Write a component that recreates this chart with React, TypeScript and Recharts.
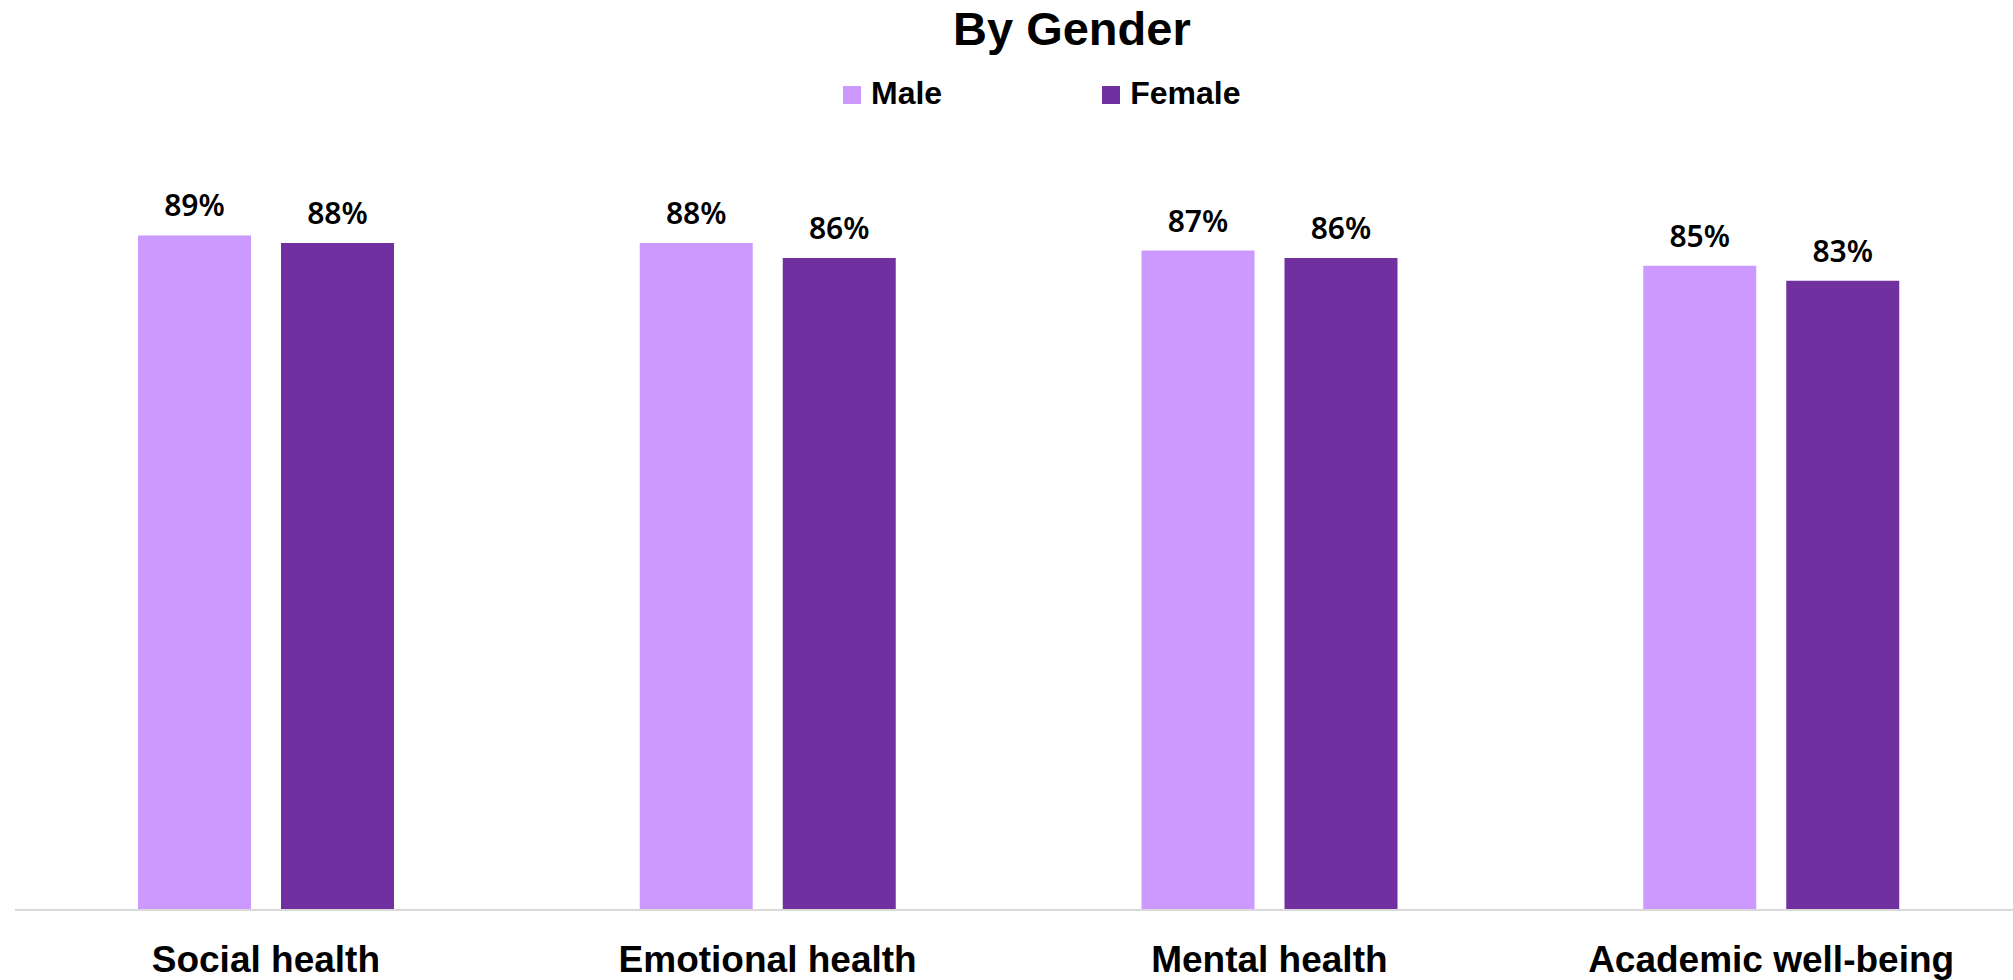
import React from "react";
import { BarChart, Bar, XAxis, YAxis, LabelList } from "recharts";

const categories = ["Social health", "Emotional health", "Mental health", "Academic well-being"];
const maleValues = [89, 88, 87, 85];
const femaleValues = [88, 86, 86, 83];
const seriesNames = ["Male", "Female"];
const seriesColors = ["#CC99FF", "#7030A0"];

const data = categories.map((c, i) => ({ category: c, Male: maleValues[i], Female: femaleValues[i] }));

const CategoryTick = (props: any) => {
  const { x, y, payload } = props;
  return (
    <text
      x={x}
      y={y}
      dy={54}
      textAnchor="middle"
      fontFamily="'Liberation Sans', Arial, sans-serif"
      fontWeight={700}
      fontSize={37}
      fill="#000"
    >
      {payload.value}
    </text>
  );
};

const fmt = (v: any) => `${v}%`;

export default function App() {
  return (
    <div style={{ position: "absolute", left: 0, top: 0, width: 2013, height: 980, overflow: "hidden", background: "#fff" }}>
      <div
        style={{
          position: "absolute",
          left: 953,
          top: 5,
          fontFamily: "'Liberation Sans', Arial, sans-serif",
          fontWeight: 700,
          fontSize: 47,
          lineHeight: 1,
          color: "#000",
          whiteSpace: "nowrap",
        }}
      >
        By Gender
      </div>
      <div
        style={{
          position: "absolute",
          left: 843,
          top: 77,
          display: "flex",
          gap: 160,
          fontFamily: "'Liberation Sans', Arial, sans-serif",
          fontWeight: 700,
          fontSize: 32,
          lineHeight: 1,
          color: "#000",
        }}
      >
        {seriesNames.map((n, i) => (
          <div key={n} style={{ display: "flex", alignItems: "center" }}>
            <div style={{ width: 18, height: 18, background: seriesColors[i], marginRight: 10, marginTop: 3 }} />
            <span>{n}</span>
          </div>
        ))}
      </div>
      <BarChart
        width={2030}
        height={980}
        data={data}
        margin={{ top: 152, right: 8, left: 15, bottom: 0 }}
        barSize={113}
        barGap={30}
      >
        <XAxis
          dataKey="category"
          height={70}
          tickLine={false}
          axisLine={{ stroke: "#d9d9d9", strokeWidth: 2 }}
          tick={<CategoryTick />}
          interval={0}
        />
        <YAxis hide domain={[0, 100]} />
        {seriesNames.map((n, i) => (
          <Bar key={n} dataKey={n} fill={seriesColors[i]} isAnimationActive={false}>
            <LabelList
              dataKey={n}
              position="top"
              offset={19}
              formatter={fmt}
              fill="#000"
              fontFamily="'Noto Sans', sans-serif"
              fontWeight={600}
              fontSize={30}
            />
          </Bar>
        ))}
      </BarChart>
    </div>
  );
}
